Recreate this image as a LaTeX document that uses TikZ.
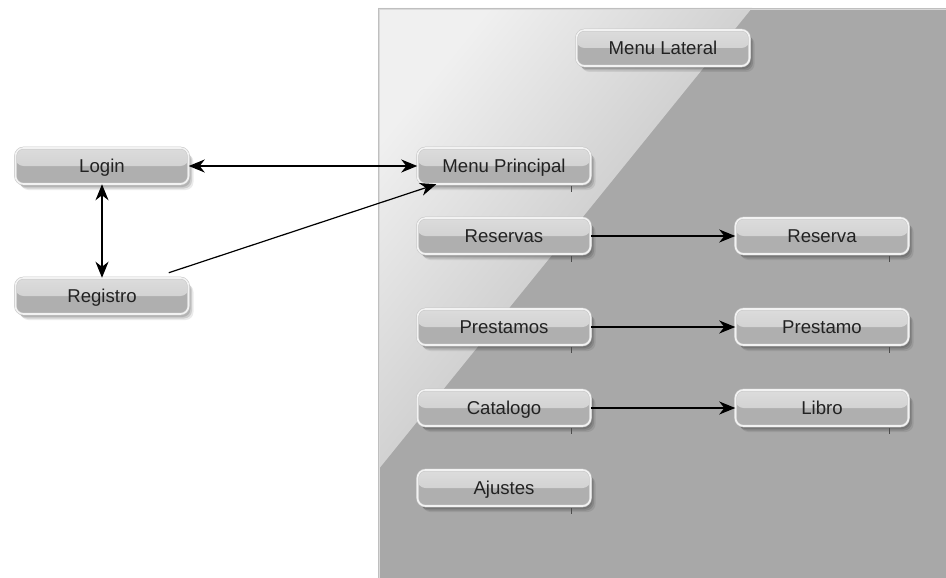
\documentclass[tikz,border=0pt]{standalone}
\usepackage{fontspec}
\setmainfont{Liberation Sans}
\usetikzlibrary{shadows,arrows.meta,calc}
\definecolor{panelgray}{HTML}{A8A8A8}
\definecolor{glosslight}{HTML}{F0F0F0}
\definecolor{glossdark}{HTML}{B3B3B3}
\definecolor{btntopA}{HTML}{DCDCDC}
\definecolor{btntopB}{HTML}{CACACA}
\definecolor{btnbot}{HTML}{AFAFAF}
\definecolor{btnrim}{HTML}{F2F2F2}
\definecolor{btnline}{HTML}{C4C4C4}
\definecolor{txt}{HTML}{222222}
\begin{document}
\begin{tikzpicture}[x=1pt,y=-1pt,
  btn/.style={rectangle, rounded corners=8pt, minimum width=173pt, minimum height=36pt,
    inner sep=0pt, fill=btnbot, text height=15pt, text depth=1.7pt,
    draw=btnline, line width=0.5pt, double=btnrim, double distance=1.6pt,
    text=txt, font=\fontsize{18.6}{20}\selectfont,
    general shadow={shadow xshift=2pt, shadow yshift=-3pt, opacity=0.12, fill=black},
    general shadow={shadow xshift=3.5pt, shadow yshift=-4.5pt, opacity=0.12, fill=black},
    general shadow={shadow xshift=5pt, shadow yshift=-6pt, opacity=0.08, fill=black},
    path picture={\shade[top color=btntopA, bottom color=btntopB]
      (path picture bounding box.north west) rectangle (path picture bounding box.east);}},
  conn/.style={draw=black, line width=1.2pt},
  tip/.style={-{Stealth[length=16pt,width=13pt,inset=5pt]}},
  tips/.style={{Stealth[length=16pt,width=13pt,inset=5pt]}-{Stealth[length=16pt,width=13pt,inset=5pt]}},
  tick/.style={draw=black!70, line width=0.6pt}]
\useasboundingbox (0,0) rectangle (946,578);
\fill[white] (0,0) rectangle (946,578);
% panel
\fill[panelgray] (378,8) rectangle (946,578);
\shade[top color=glosslight, bottom color=glossdark, shading angle=51]
  (378,8) -- (752,8) -- (378,470) -- cycle;
\draw[black!25, line width=0.6pt] (378,578) -- (378,8) -- (946,8);
\draw[white!85!black, line width=0.6pt] (379.5,578) -- (379.5,9.5) -- (946,9.5);
% nodes
\node[btn] (ml) at (663,48) {Menu Lateral};
\node[btn] (login) at (102,166) {Login};
\node[btn] (reg) at (102,296) {Registro};
\node[btn] (mp) at (504,166) {Menu Principal};
\node[btn] (res) at (504,236) {Reservas};
\node[btn] (re) at (822,236) {Reserva};
\node[btn] (pres) at (504,327) {Prestamos};
\node[btn] (pre) at (822,327) {Prestamo};
\node[btn] (cat) at (504,408) {Catalogo};
\node[btn] (lib) at (822,408) {Libro};
\node[btn] (aj) at (504,488) {Ajustes};
% ticks
\foreach \n in {mp,res,re,pres,pre,cat,lib,aj}
  \draw[tick] ([xshift=-19pt,yshift=-2pt]\n.south east) -- ++(0,6);
% connectors
\draw[conn,tips] (login.east) -- (mp.west);
\draw[conn,tips] (login.south) -- (reg.north);
\draw[conn,tip] ([xshift=-20pt,yshift=5pt]reg.north east) -- ([xshift=19pt]mp.south west);
\draw[conn,tip] (res.east) -- (re.west);
\draw[conn,tip] (pres.east) -- (pre.west);
\draw[conn,tip] (cat.east) -- (lib.west);
\end{tikzpicture}
\end{document}
